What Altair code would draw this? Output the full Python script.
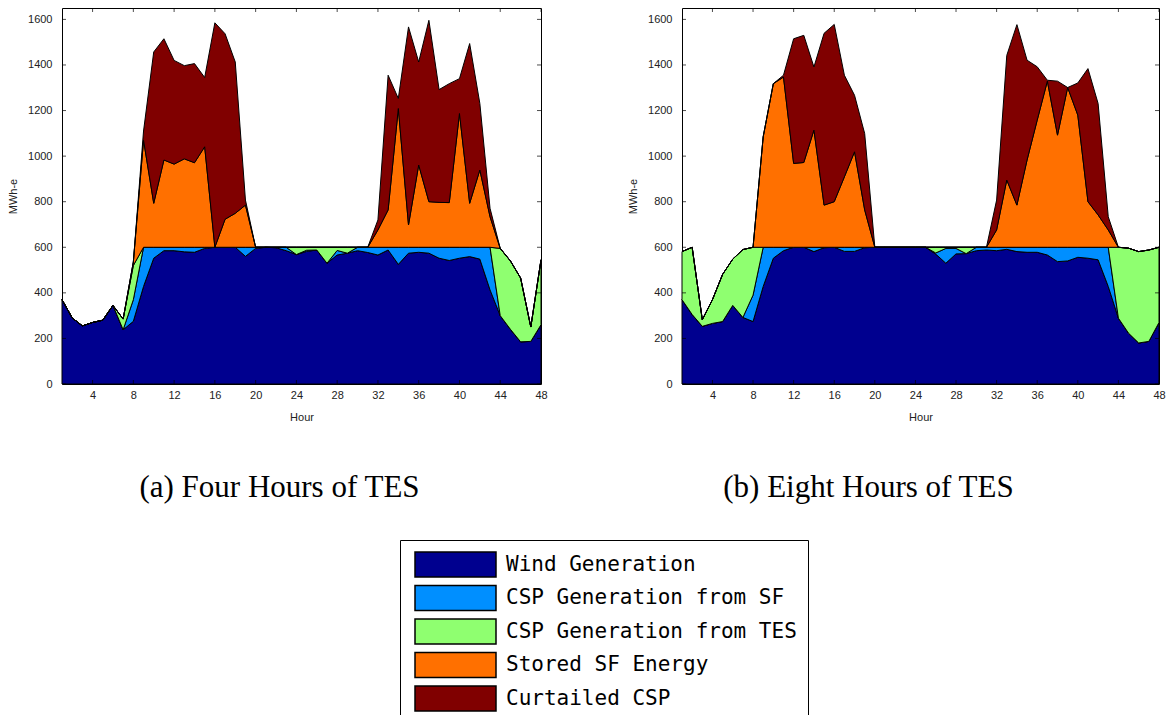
import altair as alt
import pandas as pd

HOURS = list(range(1, 49))
SERIES = [
    "Wind Generation",
    "CSP Generation from SF",
    "CSP Generation from TES",
    "Stored SF Energy",
    "Curtailed CSP",
]
COLORS = ["#00008F", "#008FFF", "#8FFF70", "#FF7000", "#800000"]
X_TICKS = [4, 8, 12, 16, 20, 24, 28, 32, 36, 40, 44, 48]
Y_TICKS = [0, 200, 400, 600, 800, 1000, 1200, 1400, 1600]
Y_MAX = 1650

# (a) four hours of thermal energy storage, MWh-e per hour
WIND_4 = [370, 290, 255, 270, 280, 345, 238, 275, 428, 552,
          585, 585, 580, 578, 595, 600, 600, 600, 560, 595,
          600, 598, 585, 568, 582, 588, 530, 566, 574, 585,
          577, 566, 588, 525, 574, 578, 574, 552, 542, 552,
          559, 548, 413, 300, 240, 185, 187, 260]
SF_4 = [0, 0, 0, 0, 0, 0, 0, 95, 172, 48,
        15, 15, 20, 22, 5, 0, 0, 0, 40, 5,
        0, 2, 15, 0, 5, 0, 0, 20, 0, 15,
        23, 34, 12, 75, 26, 22, 26, 48, 58, 48,
        41, 52, 187, 0, 0, 0, 0, 0]
TES_4 = [0, 0, 0, 0, 0, 0, 47, 150, 0, 0,
         0, 0, 0, 0, 0, 0, 0, 0, 0, 0,
         0, 0, 0, 32, 13, 12, 70, 14, 26, 0,
         0, 0, 0, 0, 0, 0, 0, 0, 0, 0,
         0, 0, 0, 295, 300, 280, 63, 285]
STORED_4 = [0, 0, 0, 0, 0, 0, 0, 15, 470, 193,
            383, 365, 388, 371, 441, 0, 123, 149, 185, 0,
            0, 0, 0, 0, 0, 0, 0, 0, 0, 0,
            0, 76, 164, 609, 98, 361, 200, 197, 196, 587,
            193, 339, 134, 0, 0, 0, 0, 0]
CURTAILED_4 = [0, 0, 0, 0, 0, 0, 0, 0, 40, 664,
               532, 455, 409, 435, 304, 985, 814, 664, 22, 0,
               0, 0, 0, 0, 0, 0, 0, 0, 0, 0,
               0, 44, 591, 44, 869, 452, 796, 495, 522, 153,
               701, 292, 37, 0, 0, 0, 0, 0]

# (b) eight hours of thermal energy storage, MWh-e per hour
WIND_8 = [370, 305, 253, 266, 274, 345, 292, 274, 428, 552,
          585, 600, 600, 581, 598, 600, 582, 582, 598, 600,
          600, 600, 600, 600, 600, 570, 530, 571, 572, 585,
          588, 585, 591, 581, 578, 578, 566, 537, 540, 556,
          552, 545, 428, 289, 223, 180, 187, 270]
SF_8 = [0, 0, 0, 0, 0, 0, 0, 116, 172, 48,
        15, 0, 0, 19, 2, 0, 18, 18, 2, 0,
        0, 0, 0, 0, 0, 5, 65, 24, 0, 15,
        12, 15, 9, 19, 22, 22, 34, 63, 60, 44,
        48, 55, 172, 0, 0, 0, 0, 0]
TES_8 = [211, 295, 29, 104, 207, 203, 298, 210, 0, 0,
         0, 0, 0, 0, 0, 0, 0, 0, 0, 0,
         0, 0, 0, 0, 0, 25, 5, 5, 28, 0,
         0, 0, 0, 0, 0, 0, 0, 0, 0, 0,
         0, 0, 0, 311, 373, 401, 401, 330]
STORED_8 = [0, 0, 0, 0, 0, 0, 0, 0, 485, 718,
            747, 368, 372, 514, 185, 200, 309, 419, 164, 0,
            0, 0, 0, 0, 0, 0, 0, 0, 0, 0,
            0, 76, 295, 185, 383, 558, 729, 492, 701, 580,
            200, 142, 76, 0, 0, 0, 0, 0]
CURTAILED_8 = [0, 0, 0, 0, 0, 0, 0, 0, 0, 0,
               8, 547, 558, 277, 754, 778, 446, 248, 335, 0,
               0, 0, 0, 0, 0, 0, 0, 0, 0, 0,
               0, 131, 547, 792, 438, 234, 4, 237, 0, 141,
               584, 489, 58, 0, 0, 0, 0, 0]

PLOT_H = 376
AXIS_FONT = "Liberation Sans"
# wide legend swatch: a 25 px symbol stretched to the right to about 81 px
LEGEND_SYMBOL = "M-0.76,-1L5.72,-1L5.72,1L-0.76,1Z"


def long_frame(columns):
    rows = []
    for k, (name, values) in enumerate(zip(SERIES, columns)):
        for h, v in zip(HOURS, values):
            rows.append({"hour": h, "series": name, "order": k, "mwh": v})
    return pd.DataFrame(rows)


def panel(columns, caption, width, caption_dx):
    x_scale = alt.Scale(domain=[1, 48], nice=False, zero=False)
    y_scale = alt.Scale(domain=[0, Y_MAX], nice=False)
    x_axis = alt.Axis(values=X_TICKS, title="Hour", ticks=False, domain=False,
                      grid=False, labelFlush=False, labelFont=AXIS_FONT,
                      labelFontSize=11, labelColor="#222", labelPadding=5,
                      titleFont=AXIS_FONT, titleFontSize=11,
                      titleFontWeight="normal", titleColor="#222",
                      titlePadding=11)
    y_axis = alt.Axis(values=Y_TICKS, format="d", title="MWh-e", ticks=False,
                      domain=False, grid=False, labelFlush=False,
                      labelFont=AXIS_FONT, labelFontSize=11, labelColor="#222",
                      labelPadding=10, titleFont=AXIS_FONT, titleFontSize=11,
                      titleFontWeight="normal", titleColor="#222",
                      titlePadding=9)

    areas = alt.Chart(long_frame(columns)).mark_area(
        stroke="black", strokeWidth=1, interpolate="linear",
        opacity=1, fillOpacity=1,
    ).encode(
        x=alt.X("hour:Q", scale=x_scale, axis=x_axis),
        y=alt.Y("mwh:Q", stack="zero", scale=y_scale, axis=y_axis),
        color=alt.Color(
            "series:N",
            scale=alt.Scale(domain=SERIES, range=COLORS),
            title=None,
            legend=alt.Legend(
                orient="none", legendX=338, legendY=532, direction="vertical",
                symbolType=LEGEND_SYMBOL, symbolSize=625,
                symbolStrokeColor="black", symbolStrokeWidth=1.5,
                symbolOpacity=1, labelFont="DejaVu Sans Mono",
                labelFontSize=21, labelColor="black", labelOffset=68,
                labelLimit=600, rowPadding=2.5, padding=11,
                strokeColor="black", fillColor="white",
            ),
        ),
        order=alt.Order("order:Q", sort="ascending"),
    )

    # inward tick marks on all four sides of the axes box
    xt = pd.DataFrame({"hour": X_TICKS})
    yt = pd.DataFrame({"mwh": Y_TICKS})
    x_enc = alt.X("hour:Q", scale=x_scale, axis=x_axis)
    y_enc = alt.Y("mwh:Q", scale=y_scale, axis=y_axis)
    tick_top = alt.Chart(xt).mark_tick(
        color="black", size=8, thickness=1, orient="vertical", clip=True
    ).encode(x=x_enc, y=alt.value(0))
    tick_bottom = alt.Chart(xt).mark_tick(
        color="black", size=8, thickness=1, orient="vertical", clip=True
    ).encode(x=x_enc, y=alt.value(PLOT_H))
    tick_left = alt.Chart(yt).mark_tick(
        color="black", size=8, thickness=1, orient="horizontal", clip=True
    ).encode(y=y_enc, x=alt.value(0))
    tick_right = alt.Chart(yt).mark_tick(
        color="black", size=8, thickness=1, orient="horizontal", clip=True
    ).encode(y=y_enc, x=alt.value(width))

    return alt.layer(areas, tick_top, tick_bottom, tick_left, tick_right).properties(
        width=width,
        height=PLOT_H,
        title=alt.TitleParams(
            text=caption, orient="bottom", anchor="middle", frame="group",
            font="Liberation Serif", fontSize=31, fontWeight="normal",
            color="black", offset=51, baseline="top", dx=caption_dx,
        ),
    )


left = panel([WIND_4, SF_4, TES_4, STORED_4, CURTAILED_4],
             "(a) Four Hours of TES", 479, -22)
right = panel([WIND_8, SF_8, TES_8, STORED_8, CURTAILED_8],
              "(b) Eight Hours of TES", 477, -52)

chart = alt.hconcat(left, right, spacing=141, bounds="flush").properties(
    padding={"left": 7, "top": 7, "right": 0, "bottom": 0},
    background="white",
).configure_view(stroke="black", strokeWidth=1)

chart.save("out.html", embed_options={"renderer": "svg", "actions": False})
